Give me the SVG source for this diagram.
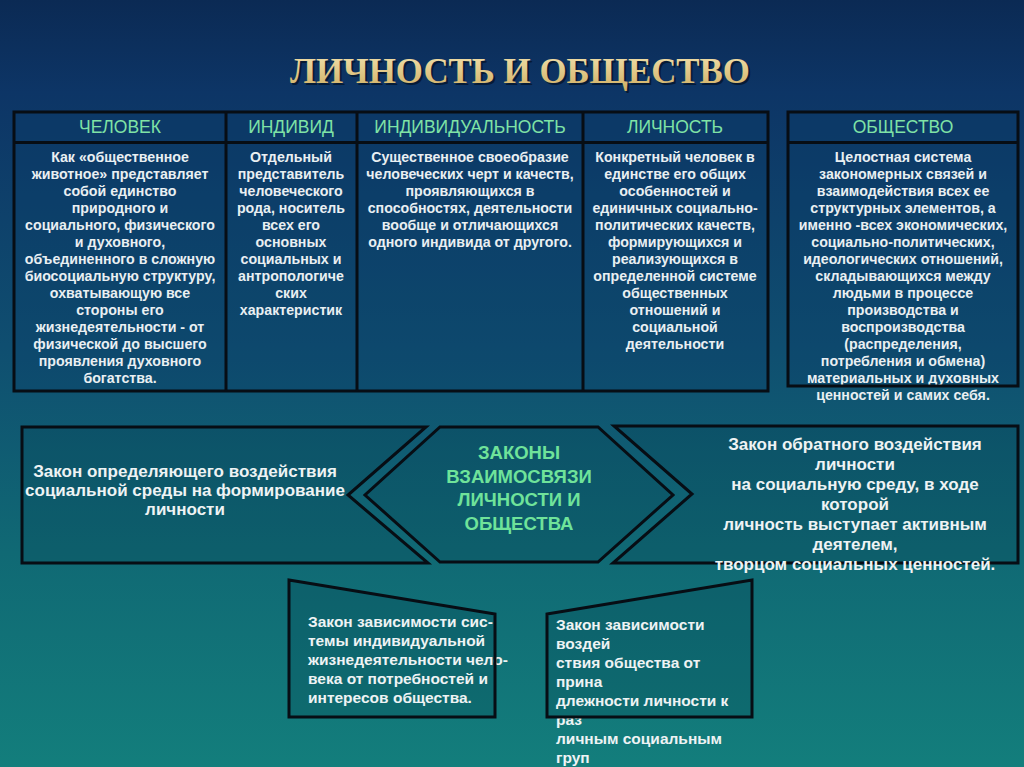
<svg xmlns="http://www.w3.org/2000/svg" width="1024" height="767" viewBox="0 0 1024 767">
<defs>
<linearGradient id="bg" x1="0" y1="0" x2="0" y2="1">
<stop offset="0" stop-color="#0b2a54"/>
<stop offset="0.12" stop-color="#0d3566"/>
<stop offset="0.45" stop-color="#0f4e70"/>
<stop offset="0.72" stop-color="#106974"/>
<stop offset="1" stop-color="#137e7c"/>
</linearGradient>
<linearGradient id="gold" x1="0" y1="0" x2="0" y2="1">
<stop offset="0" stop-color="#f2e2ae"/>
<stop offset="1" stop-color="#cfae62"/>
</linearGradient>
<style>
.line{fill:none;stroke:#070d14;stroke-width:3;stroke-linejoin:miter}
.cell{fill:#0a3c66;fill-opacity:0.3}
.sh{fill:#04404e;fill-opacity:0.25}
.hd{font-family:"Liberation Sans",Arial,sans-serif;font-size:17.5px;fill:#7fe3a6;text-anchor:middle}
.bd{font-family:"Liberation Sans",Arial,sans-serif;font-size:14.2px;font-weight:bold;fill:#e9eff2;text-anchor:middle}
.md{font-family:"Liberation Sans",Arial,sans-serif;font-size:17px;font-weight:bold;fill:#eef3f4;text-anchor:middle}
.ct{font-family:"Liberation Sans",Arial,sans-serif;font-size:18.5px;font-weight:bold;fill:#6fe39a;text-anchor:middle}
.bt{font-family:"Liberation Sans",Arial,sans-serif;font-size:15.5px;font-weight:bold;fill:#eef3f4}
</style>
</defs>
<rect x="0" y="0" width="1024" height="767" fill="url(#bg)"/>

<g id="title">
<text x="522" y="85" font-family="'Liberation Serif','Times New Roman',serif" font-size="35" font-weight="bold" fill="#05152b" text-anchor="middle" textLength="460" lengthAdjust="spacingAndGlyphs" opacity="0.8">ЛИЧНОСТЬ И ОБЩЕСТВО</text>
<text x="520" y="83" font-family="'Liberation Serif','Times New Roman',serif" font-size="35" font-weight="bold" fill="url(#gold)" text-anchor="middle" textLength="460" lengthAdjust="spacingAndGlyphs">ЛИЧНОСТЬ И ОБЩЕСТВО</text>
</g>

<g id="table">
<rect class="cell" x="14" y="112" width="754" height="279"/>
<g id="chelovek">
<text class="hd" x="120" y="133">ЧЕЛОВЕК</text>
<text class="bd" y="162"><tspan x="120">Как «общественное</tspan><tspan x="120" dy="17">животное» представляет</tspan><tspan x="120" dy="17">собой единство</tspan><tspan x="120" dy="17">природного и</tspan><tspan x="120" dy="17">социального, физического</tspan><tspan x="120" dy="17">и духовного,</tspan><tspan x="120" dy="17">объединенного в сложную</tspan><tspan x="120" dy="17">биосоциальную структуру,</tspan><tspan x="120" dy="17">охватывающую все</tspan><tspan x="120" dy="17">стороны его</tspan><tspan x="120" dy="17">жизнедеятельности - от</tspan><tspan x="120" dy="17">физической до высшего</tspan><tspan x="120" dy="17">проявления духовного</tspan><tspan x="120" dy="17">богатства.</tspan></text>
</g>
<g id="individ">
<text class="hd" x="291" y="133">ИНДИВИД</text>
<text class="bd" y="162"><tspan x="291">Отдельный</tspan><tspan x="291" dy="17">представитель</tspan><tspan x="291" dy="17">человеческого</tspan><tspan x="291" dy="17">рода, носитель</tspan><tspan x="291" dy="17">всех его</tspan><tspan x="291" dy="17">основных</tspan><tspan x="291" dy="17">социальных и</tspan><tspan x="291" dy="17">антропологиче</tspan><tspan x="291" dy="17">ских</tspan><tspan x="291" dy="17">характеристик</tspan></text>
</g>
<g id="individualnost">
<text class="hd" x="470" y="133">ИНДИВИДУАЛЬНОСТЬ</text>
<text class="bd" y="162"><tspan x="470">Существенное своеобразие</tspan><tspan x="470" dy="17">человеческих черт и качеств,</tspan><tspan x="470" dy="17">проявляющихся в</tspan><tspan x="470" dy="17">способностях, деятельности</tspan><tspan x="470" dy="17">вообще и отличающихся</tspan><tspan x="470" dy="17">одного индивида от другого.</tspan></text>
</g>
<g id="lichnost">
<text class="hd" x="675" y="133">ЛИЧНОСТЬ</text>
<text class="bd" y="162"><tspan x="675">Конкретный человек в</tspan><tspan x="675" dy="17">единстве его общих</tspan><tspan x="675" dy="17">особенностей и</tspan><tspan x="675" dy="17">единичных социально-</tspan><tspan x="675" dy="17">политических качеств,</tspan><tspan x="675" dy="17">формирующихся и</tspan><tspan x="675" dy="17">реализующихся в</tspan><tspan x="675" dy="17">определенной системе</tspan><tspan x="675" dy="17">общественных</tspan><tspan x="675" dy="17">отношений и</tspan><tspan x="675" dy="17">социальной</tspan><tspan x="675" dy="17">деятельности</tspan></text>
</g>
<rect class="line" x="14" y="112" width="754" height="279"/>
<path class="line" d="M14 142.5H768M226 112V391M357 112V391M583 112V391"/>
</g>

<g id="obshchestvo">
<rect class="cell" x="788" y="112" width="230" height="274"/>
<text class="hd" x="903" y="133">ОБЩЕСТВО</text>
<text class="bd" y="162"><tspan x="903">Целостная система</tspan><tspan x="903" dy="17">закономерных связей и</tspan><tspan x="903" dy="17">взаимодействия всех ее</tspan><tspan x="903" dy="17">структурных элементов, а</tspan><tspan x="903" dy="17">именно -всех экономических,</tspan><tspan x="903" dy="17">социально-политических,</tspan><tspan x="903" dy="17">идеологических отношений,</tspan><tspan x="903" dy="17">складывающихся между</tspan><tspan x="903" dy="17">людьми в процессе</tspan><tspan x="903" dy="17">производства и</tspan><tspan x="903" dy="17">воспроизводства</tspan><tspan x="903" dy="17">(распределения,</tspan><tspan x="903" dy="17">потребления и обмена)</tspan><tspan x="903" dy="17">материальных и духовных</tspan><tspan x="903" dy="17">ценностей и самих себя.</tspan></text>
<rect class="line" x="788" y="112" width="230" height="274"/>
<path class="line" d="M788 142.5H1018"/>
</g>

<g id="law-left">
<path class="sh" d="M22 427H426L348 495L428 563H22Z"/>
<text class="md" y="477"><tspan x="185">Закон определяющего воздействия</tspan><tspan x="185" dy="19">социальной среды на формирование</tspan><tspan x="185" dy="19">личности</tspan></text>
<path class="line" d="M22 427H426L348 495L428 563H22Z"/>
</g>

<g id="laws-center">
<path class="sh" d="M440 427H598L673 495L598 562H440L365 495Z"/>
<text class="ct" y="459"><tspan x="519">ЗАКОНЫ</tspan><tspan x="519" dy="23.5">ВЗАИМОСВЯЗИ</tspan><tspan x="519" dy="23.5">ЛИЧНОСТИ И</tspan><tspan x="519" dy="23.5">ОБЩЕСТВА</tspan></text>
<path class="line" d="M440 427H598L673 495L598 562H440L365 495Z"/>
</g>

<g id="law-right">
<path class="sh" d="M614 426H1018V563H613L692 494Z"/>
<path class="line" d="M614 426H1018V563H613L692 494Z"/>
<text class="md" y="450"><tspan x="855">Закон обратного воздействия</tspan><tspan x="855" dy="20">личности</tspan><tspan x="855" dy="20">на социальную среду, в ходе</tspan><tspan x="855" dy="20">которой</tspan><tspan x="855" dy="20">личность выступает активным</tspan><tspan x="855" dy="20">деятелем,</tspan><tspan x="855" dy="20">творцом социальных ценностей.</tspan></text>
</g>

<g id="law-bottom-left">
<path class="sh" d="M289 580L495 614V717H289Z"/>
<text class="bt" y="627"><tspan x="308">Закон зависимости сис-</tspan><tspan x="308" dy="19">темы индивидуальной</tspan><tspan x="308" dy="19">жизнедеятельности чело-</tspan><tspan x="308" dy="19">века от потребностей и</tspan><tspan x="308" dy="19">интересов общества.</tspan></text>
<path class="line" d="M289 580L495 614V717H289Z"/>
</g>

<g id="law-bottom-right">
<path class="sh" d="M547 614L752 580V717H547Z"/>
<text class="bt" y="630"><tspan x="556">Закон зависимости</tspan><tspan x="556" dy="19">воздей</tspan><tspan x="556" dy="19">ствия общества от</tspan><tspan x="556" dy="19">прина</tspan><tspan x="556" dy="19">длежности личности к</tspan><tspan x="556" dy="19">раз</tspan><tspan x="556" dy="19">личным социальным</tspan><tspan x="556" dy="19">груп</tspan></text>
<path class="line" d="M547 614L752 580V717H547Z"/>
</g>

<g id="connectors"/>
</svg>
